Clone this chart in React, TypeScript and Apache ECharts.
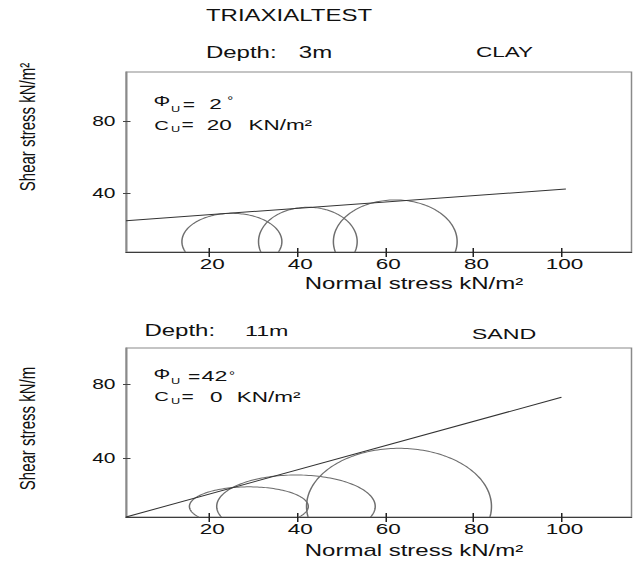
import { useEffect, useRef } from "react";
import * as echarts from "echarts";

const FONT = '"Liberation Sans", Arial, Helvetica, sans-serif';
const INK = "#111";

// The figure is laid out on a narrow canvas and widened horizontally.
const STRETCH = 1.5;
const CANVAS_W = 422;
const CANVAS_H = 561;

// Tick positions (kN/m²)
const sigmaTicks = [20, 40, 60, 80, 100];
const clayTauTicks = [40, 80];
const sandTauTicks = [40, 80];

// Axis ranges
const sigmaRange = [1.1, 115.9];
const clayTauRange = [7.2, 107.8];
const sandTauRange = [8.3, 99.6];

// Clay, depth 3 m: Mohr circles (σ3, σ1, peak τ)
const claySigma3 = [13.8, 31.2, 48.2];
const claySigma1 = [36.5, 53.6, 76.3];
const clayTauPeak = [28.8, 32.2, 36.3];
const clayCircleBase = 13;

// Sand, depth 11 m: Mohr circles (σ3, σ1, peak τ)
const sandSigma3 = [15.5, 21.7, 42.1];
const sandSigma1 = [42.5, 57.7, 84.1];
const sandTauPeak = [24.6, 31.0, 45.4];
const sandCircleBase = 14;

// Failure envelopes (σ, τ end points)
const clayEnvelopeSigma = [1.1, 101];
const clayEnvelopeTau = [24.7, 42.4];
const sandEnvelopeSigma = [1.1, 100];
const sandEnvelopeTau = [8.3, 73.0];

const zip = (a: number[], b: number[]) => a.map((v, i) => [v, b[i]]);
const circleRows = (s3: number[], s1: number[], pk: number[]) =>
  s3.map((v, i) => [v, s1[i], pk[i]]);

// Upper part of each Mohr circle, cut at the visible σ axis
const mohrRenderer = (base: number, floor: number) => (params: any, api: any) => {
  const lo = api.value(0);
  const hi = api.value(1);
  const peak = api.value(2);
  const c = (lo + hi) / 2;
  const r = (hi - lo) / 2;
  const h = peak - base;
  const s0 = Math.max(-1, Math.min(1, (floor - base) / h));
  const t0 = Math.asin(s0);
  const n = 120;
  const points: number[][] = [];
  for (let i = 0; i <= n; i++) {
    const t = t0 + ((Math.PI - 2 * t0) * i) / n;
    points.push(api.coord([c + r * Math.cos(t), base + h * Math.sin(t)]));
  }
  return {
    type: "polyline",
    shape: { points },
    style: { fill: "none", stroke: "#6e6e6e", lineWidth: 1 },
  };
};

const xMain = (g: number, nameGap: number) => ({
  type: "value",
  gridIndex: g,
  min: sigmaRange[0],
  max: sigmaRange[1],
  position: "bottom",
  splitLine: { show: false },
  axisLine: { show: true, lineStyle: { color: "#3c3c3c", width: 1 } },
  axisTick: { show: true, inside: false, length: 5, customValues: sigmaTicks, lineStyle: { color: "#222" } },
  axisLabel: {
    customValues: sigmaTicks,
    fontSize: 15,
    color: INK,
    fontFamily: FONT,
    margin: 4,
    padding: [0, 0, 0, 4],
  },
  name: "Normal stress kN/m²",
  nameLocation: "middle",
  nameGap,
  nameTextStyle: { fontSize: 16, color: INK, fontFamily: FONT, padding: [0, 0, 0, 47] },
});

const xInnerTicks = (g: number) => ({
  type: "value",
  gridIndex: g,
  min: sigmaRange[0],
  max: sigmaRange[1],
  position: "bottom",
  splitLine: { show: false },
  axisLine: { show: false },
  axisLabel: { show: false },
  axisTick: { show: true, inside: true, length: 4, customValues: sigmaTicks, lineStyle: { color: "#222" } },
});

const yMain = (g: number, range: number[], ticks: number[], name: string, shift: number) => ({
  type: "value",
  gridIndex: g,
  min: range[0],
  max: range[1],
  position: "left",
  splitLine: { show: false },
  axisLine: { show: true, lineStyle: { color: "#8a8a8a", width: 1 } },
  axisTick: { show: true, inside: false, length: 2, customValues: ticks, lineStyle: { color: "#444" } },
  axisLabel: { customValues: ticks, fontSize: 14, color: INK, fontFamily: FONT, margin: 7 },
  name,
  nameLocation: "middle",
  nameGap: 58,
  nameTextStyle: { fontSize: 15, color: INK, fontFamily: FONT, padding: [0, 0, 0, shift] },
});

const yInnerTicks = (g: number, range: number[], ticks: number[]) => ({
  type: "value",
  gridIndex: g,
  min: range[0],
  max: range[1],
  position: "left",
  splitLine: { show: false },
  axisLine: { show: false },
  axisLabel: { show: false },
  axisTick: { show: true, inside: true, length: 3, customValues: ticks, lineStyle: { color: "#444" } },
});

const label = (x: number, y: number, text: string, fontSize: number) => ({
  type: "text",
  x,
  y,
  silent: true,
  style: {
    text,
    fontSize,
    fontFamily: FONT,
    fill: INK,
    align: "left",
    verticalAlign: "middle",
    textAlign: "left",
    textVerticalAlign: "middle",
  },
});

const option = {
  animation: false,
  backgroundColor: "#fff",
  grid: [
    { left: 84, top: 72, right: 1, height: 180, show: true, borderColor: "#8a8a8a", borderWidth: 1, backgroundColor: "transparent" },
    { left: 84, top: 348, right: 1, height: 169, show: true, borderColor: "#8a8a8a", borderWidth: 1, backgroundColor: "transparent" },
  ],
  xAxis: [xMain(0, 24), xInnerTicks(0), xMain(1, 26), xInnerTicks(1)],
  yAxis: [
    yMain(0, clayTauRange, clayTauTicks, "Shear stress kN/m²", 70),
    yInnerTicks(0, clayTauRange, clayTauTicks),
    yMain(1, sandTauRange, sandTauTicks, "Shear stress kN/m", 8),
    yInnerTicks(1, sandTauRange, sandTauTicks),
  ],
  series: [
    {
      type: "line",
      xAxisIndex: 0,
      yAxisIndex: 0,
      data: zip(clayEnvelopeSigma, clayEnvelopeTau),
      symbol: "none",
      silent: true,
      lineStyle: { color: "#333", width: 1 },
    },
    {
      type: "custom",
      xAxisIndex: 0,
      yAxisIndex: 0,
      silent: true,
      data: circleRows(claySigma3, claySigma1, clayTauPeak),
      renderItem: mohrRenderer(clayCircleBase, clayTauRange[0]),
    },
    {
      type: "line",
      xAxisIndex: 2,
      yAxisIndex: 2,
      data: zip(sandEnvelopeSigma, sandEnvelopeTau),
      symbol: "none",
      silent: true,
      lineStyle: { color: "#333", width: 1 },
    },
    {
      type: "custom",
      xAxisIndex: 2,
      yAxisIndex: 2,
      silent: true,
      data: circleRows(sandSigma3, sandSigma1, sandTauPeak),
      renderItem: mohrRenderer(sandCircleBase, sandTauRange[0]),
    },
  ],
  graphic: [
    label(137.3, 15.3, "TRIAXIALTEST", 16),

    // Clay panel headings
    label(137.3, 52.5, "Depth:", 16),
    label(199.2, 52.5, "3m", 16),
    label(317.3, 52, "CLAY", 15),

    // Clay strength parameters
    label(102.3, 101.5, "Φ", 14),
    label(114, 109, "U", 8.5),
    label(121.8, 105, "=", 14),
    label(139.5, 104.2, "2", 15),
    label(151.5, 100.5, "°", 10),
    label(102.8, 125, "C", 13.5),
    label(114, 129, "U", 8.5),
    label(121, 125.5, "=", 14),
    label(137.8, 125, "20", 15),
    label(165.6, 125, "KN/m²", 15),

    // Sand panel headings
    label(96.3, 331, "Depth:", 16),
    label(163.3, 331, "11m", 15.5),
    label(314.5, 333.3, "SAND", 15.5),

    // Sand strength parameters
    label(102.3, 374.5, "Φ", 14),
    label(114, 381, "U", 8.5),
    label(125.3, 377, "=", 14),
    label(134.4, 376, "42", 15.5),
    label(152.7, 375, "°", 10),
    label(102.8, 396.7, "C", 13.5),
    label(114, 400.5, "U", 8.5),
    label(121, 397, "=", 14),
    label(140, 396.7, "0", 15),
    label(157.8, 396.7, "KN/m²", 15),
  ],
};

export default function App() {
  const ref = useRef<HTMLDivElement>(null);
  useEffect(() => {
    const chart = echarts.init(ref.current as HTMLDivElement, null, { renderer: "svg" });
    chart.setOption(option as any);
    return () => chart.dispose();
  }, []);
  return (
    <div
      ref={ref}
      style={{
        position: "absolute",
        left: 0,
        top: 0,
        width: CANVAS_W,
        height: CANVAS_H,
        transform: `scaleX(${STRETCH})`,
        transformOrigin: "0 0",
        background: "#fff",
      }}
    />
  );
}
